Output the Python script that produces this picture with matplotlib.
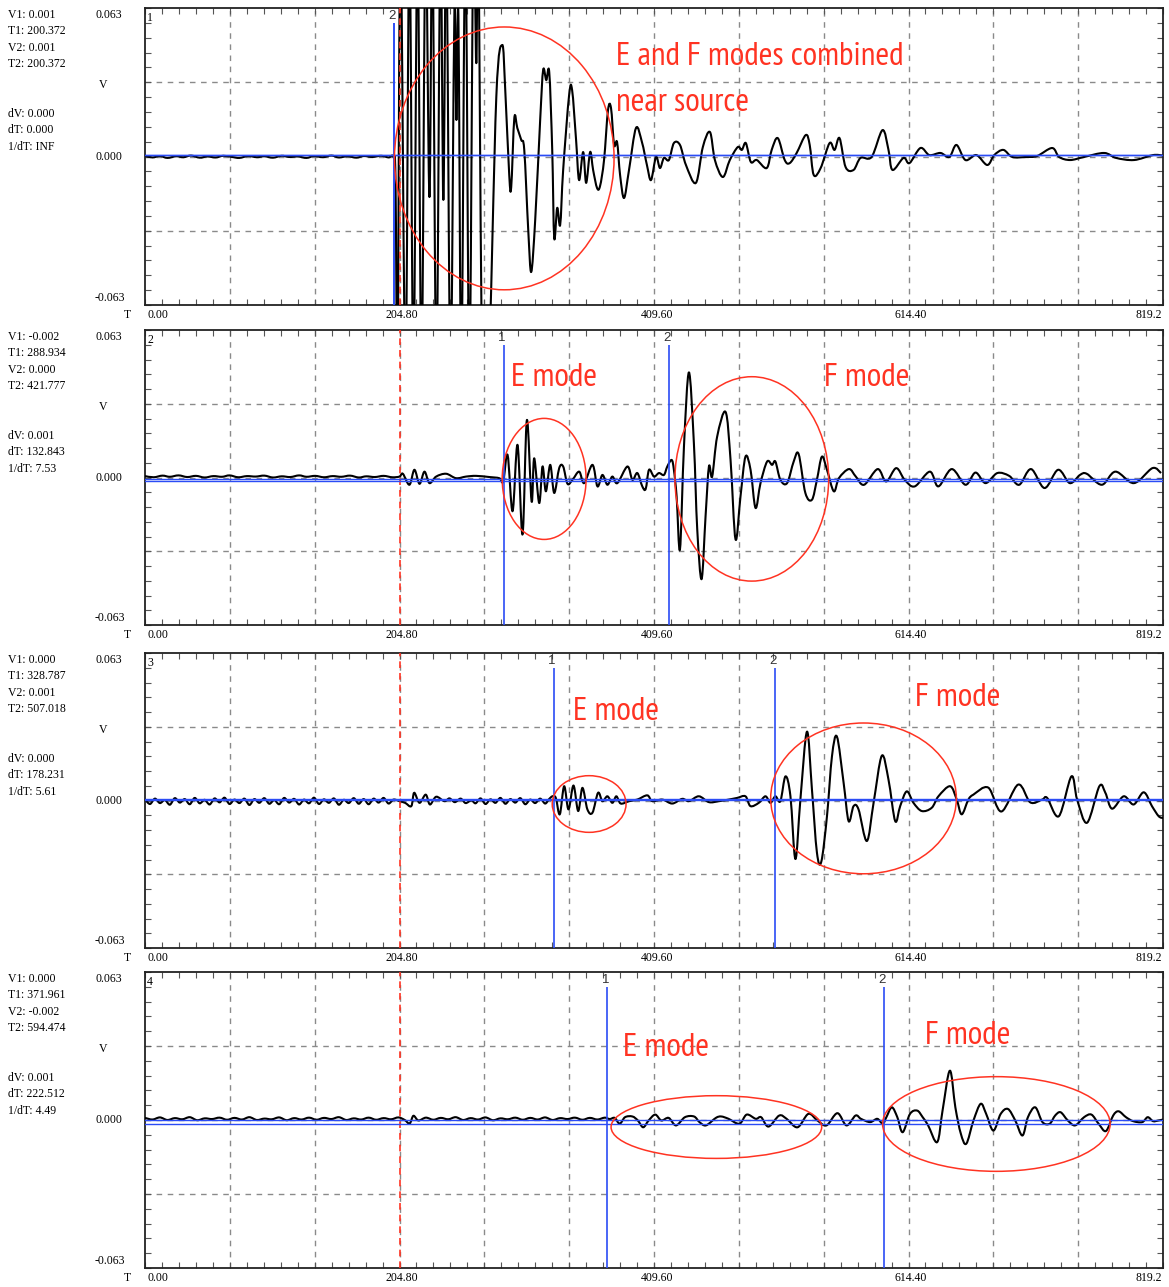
import os
import numpy as np
import matplotlib
matplotlib.use("Agg")
import matplotlib.pyplot as plt
from matplotlib import font_manager
from matplotlib.font_manager import FontProperties
from matplotlib.patches import Ellipse, PathPatch
from matplotlib.path import Path

T_MAX = 819.2
V_MAX = 0.063

# traces: (time, millivolts)
ch1 = [
    (0, 0.3), (6, -0.4), (12, 0.2), (18, -0.6), (25, 0.1), (31, -0.3), (37, 0.4), (44, -0.5), (50, 0.0), (57, -0.4),
    (63, 0.3), (70, -0.2), (76, -0.6), (83, 0.2), (90, -0.3), (96, 0.1), (103, -0.5), (110, 0.3), (116, -0.2), (123, 0.0),
    (130, -0.6), (136, 0.2), (143, -0.3), (150, 0.4), (156, -0.4), (163, 0.1), (170, -0.5), (176, 0.2), (183, -0.2), (190, 0.3),
    (196, -0.4), (200.0, -0.2), (201.6, -10.0), (203.2, -95), (205.6, 95), (209.6, -95), (212.8, 95), (216.0, -95), (219.3, 95), (222.5, -95),
    (225.7, 95), (228.9, -17.2), (231.3, 95), (234.5, -95), (237.7, 95), (240.1, -18.4), (242.5, 95), (245.8, -95), (249.0, 62.1), (250.6, 15.5),
    (252.2, 60.0), (254.6, -95), (257.8, 95), (261.0, -95), (264.2, 95), (266.6, 39.6), (268.2, 95), (271.5, -95), (276.3, -95), (282.7, 25.2),
    (287.5, 47.3), (289.9, 28.2), (293.1, -7.8), (294.7, -13.0), (297.2, 16.3), (299.6, 12.1), (302.8, 7.0), (305.2, 2.8), (308.4, -31.2), (310.8, -49.0),
    (314.0, -26.9), (318.0, 15.5), (320.4, 36.7), (322.9, 32.4), (325.3, 35.8), (327.7, 2.8), (329.3, -34.6), (331.7, -21.8), (334.1, -29.0), (336.5, -5.7),
    (341.3, 26.1), (343.7, 28.2), (346.9, 7.0), (349.3, -10.0), (352.6, 1.9), (355.0, -11.2), (358.2, 1.9), (360.6, -5.7), (363.8, -13.4), (366.2, -12.5),
    (369.4, -1.5), (372.6, 19.7), (375.0, 20.6), (377.5, 4.9), (379.9, 6.1), (382.3, -7.8), (385.5, -17.6), (389.5, -5.7), (395.1, 12.1), (399.9, 6.1),
    (403.9, -3.6), (407.2, -10.0), (411.2, -0.2), (414.4, -4.9), (417.6, -0.6), (421.6, -1.5), (425.6, 5.7), (430.5, 4.9), (435.3, -3.6), (443.3, -11.2),
    (448.9, 4.0), (454.6, 10.4), (458.6, -1.5), (465.0, -8.7), (470.6, -1.5), (477.0, 4.0), (480.3, 2.8), (483.5, 5.7), (487.5, -2.3), (492.3, -1.5),
    (500.3, -4.9), (504.3, 2.8), (509.2, 7.8), (514.8, -1.5), (518.8, -2.8), (524.4, 1.5), (531.7, 9.1), (534.9, 4.9), (538.1, -7.8), (543.7, -4.9),
    (550.9, 5.7), (554.9, 2.8), (558.9, 7.8), (563.8, -4.5), (570.2, -5.7), (575.8, -0.6), (584.7, -0.2), (593.5, 11.2), (598.3, 2.8), (601.5, -5.7),
    (610.4, -0.6), (615.2, -2.8), (624.0, 3.6), (631.2, 0.6), (640.1, 1.5), (647.3, -0.2), (653.0, 4.9), (660.2, -1.5), (669.0, 0.6), (677.8, -3.6),
    (683.4, 0.6), (690.7, 2.8), (697.9, -0.2), (709.1, -0.2), (717.9, 0.2), (730.0, 3.6), (735.6, -0.2), (744.5, -1.5), (755.7, -0.2), (771.8, 1.5),
    (781.4, -0.6), (795.9, -1.5), (811.1, 0.6), (819.2, 0.4),
]

ch2 = [
    (0, 0.6), (7, 0.1), (14, 0.8), (20, 0.3), (27, 0.9), (34, 0.2), (41, 0.7), (48, 0.0), (55, 0.6), (62, 0.3),
    (68, 0.9), (75, 0.1), (82, 0.6), (89, 0.4), (96, 0.8), (103, 0.0), (110, 0.5), (117, 0.2), (124, 0.9), (130, 0.3),
    (137, 0.7), (144, 0.1), (151, 0.6), (158, 0.3), (165, 0.8), (172, 0.0), (178, 0.5), (185, 0.2), (192, 0.7), (199, 0.1),
    (204.8, 0.4), (207.5, 1.6), (212.8, -3.1), (216.8, 3.3), (220.9, -2.7), (224.9, 2.5), (228.9, -2.4), (234.3, 0.4), (242.3, 1.6), (250.3, -0.3),
    (258.4, 0.4), (266.4, 0.7), (277.1, 0.2), (285.1, -0.3), (288.3, -1.7), (291.8, 9.6), (295.8, -14.4), (299.8, 13.9), (303.8, -24.3), (307.3, 24.5),
    (311.1, -10.2), (313.2, 8.2), (317.2, -10.9), (319.9, 4.7), (322.6, -5.9), (326.1, 5.4), (329.3, -6.6), (333.3, 4.0), (336.5, 4.7), (340.0, -2.7),
    (344.0, -1.0), (349.4, 2.5), (353.4, -2.4), (360.1, 5.4), (364.1, -3.8), (368.1, 1.1), (372.1, -3.1), (376.1, 0.4), (380.1, -2.4), (388.2, 4.7),
    (392.2, -1.0), (396.2, 1.9), (400.2, -3.8), (402.9, -4.9), (405.6, 3.3), (409.6, 0.4), (413.6, 1.9), (417.6, 1.1), (420.3, 4.7), (423.8, 7.5),
    (425.6, 3.3), (427.8, -8.1), (430.5, -30.7), (433.7, 13.1), (437.7, 44.9), (441.7, 14.6), (444.4, -22.2), (447.9, -43.4), (451.1, -16.5), (453.8, 4.7),
    (456.4, 0.4), (460.4, 17.4), (467.2, 28.0), (471.2, 7.5), (475.2, -26.4), (479.2, -8.1), (483.2, 8.9), (487.3, 3.3), (491.3, -13.0), (495.3, -2.4),
    (500.6, 6.8), (504.6, 5.4), (507.3, 6.8), (511.3, -1.0), (516.7, -2.4), (522.0, 6.8), (526.0, 10.0), (531.4, -6.6), (536.7, -9.5), (540.7, -1.0),
    (544.7, 8.9), (548.8, 3.3), (554.3, -5.9), (558.4, -0.3), (566.5, 3.6), (572.0, 0.4), (578.7, -3.1), (589.6, 3.6), (596.4, -1.7), (604.5, 4.0),
    (611.3, -1.0), (619.4, -3.8), (631.6, 2.5), (638.4, -3.8), (649.2, 3.6), (660.2, -3.1), (668.3, 2.1), (676.4, -2.4), (685.9, 1.9), (695.4, 0.7),
    (703.5, -3.1), (713.0, 3.6), (723.9, -4.5), (734.8, 3.3), (744.2, -2.4), (752.4, 1.1), (757.8, 1.6), (770.0, -3.1), (780.9, 2.5), (795.8, -2.4),
    (810.7, 4.0), (817.6, 1.9),
]

ch3 = [
    (0, 0.5), (4, -1.5), (8, 0.8), (12, -1.1), (16, 0.2), (20, -1.8), (24, 1.0), (28, -0.9), (32, 0.6), (36, -1.6),
    (40, 1.1), (44, -1.2), (48, 0.3), (52, -1.7), (56, 0.9), (60, -0.8), (64, 1.2), (68, -1.5), (72, 0.4), (76, -1.1),
    (80, 0.8), (84, -1.9), (88, 0.6), (92, -1.0), (96, 1.0), (100, -1.4), (104, 0.2), (108, -1.6), (112, 1.1), (116, -0.9),
    (120, 0.7), (124, -1.7), (128, 0.4), (132, -1.2), (136, 1.2), (140, -1.5), (144, 0.5), (148, -1.0), (152, 0.9), (156, -1.8),
    (160, 0.3), (164, -1.1), (168, 1.0), (172, -1.4), (176, 0.6), (180, -1.6), (184, 0.8), (188, -0.9), (192, 1.1), (196, -1.3),
    (200, 0.4), (204.8, -0.3), (209.3, -1.0), (214.3, -2.4), (216.6, 3.3), (220.9, -1.0), (225.9, 2.5), (229.3, -1.7), (234.3, 1.6), (240.9, -0.3),
    (245, 0.9), (249.3, -0.7), (254, 0.8), (258, -1.1), (262.6, 0.1), (266, -1.2), (270, 0.9), (274, -1.5), (278, 0.5), (282, -1.0),
    (286, 1.1), (290, -1.4), (294, 0.6), (298, -0.9), (302, 1.0), (306, -1.6), (310, 0.4), (314, -1.1), (318, 0.8), (322, -1.3),
    (325, 0.5), (327.9, 1.8), (330.6, 1.1), (333.8, -5.9), (337.3, 6.1), (340.8, -3.8), (344.8, 6.4), (348.6, -4.5), (352.0, 5.4), (356.0, -3.8),
    (360.1, -5.2), (364.6, 3.3), (368.1, -0.3), (372.1, 1.8), (376.1, -1.0), (379.3, 1.8), (382.8, -1.3), (389.5, -0.3), (396.2, 0.4), (404.2, 2.2),
    (408.2, -0.3), (416.3, 0.4), (424.3, -1.3), (432.3, 0.7), (437.7, -0.3), (445.7, 1.8), (453.8, -0.7), (461.8, -0.3), (469.8, 0.4), (476.5, 1.1),
    (483.2, 1.8), (487.2, -2.4), (493.9, -1.0), (499.3, 1.8), (503.3, -1.0), (507.3, 1.8), (511.3, -0.3), (515.4, 10.3), (519.4, 1.8), (523.4, -25.0),
    (527.4, 0.4), (532.7, 29.4), (536.7, 4.7), (540.7, -22.2), (544.2, -26.2), (548.8, -6.7), (552.8, 18.8), (556.8, 27.3), (562.2, 7.5), (566.2, -8.8),
    (570.2, -2.4), (574.2, -3.8), (580.9, -17.3), (586.3, -1.0), (592.9, 19.1), (598.3, 8.9), (603.7, -8.8), (607.7, -2.4), (613.0, 3.9), (618.4, -1.0),
    (625.1, -4.5), (633.1, -3.1), (638.5, 1.8), (647.9, 6.1), (653.2, 0.4), (657.2, -5.9), (662.6, 0.4), (666.6, 2.5), (678.6, 5.5), (689.1, -4.7),
    (702.7, 6.8), (712.4, -0.8), (722.0, 0.4), (726.0, 1.1), (735.4, -6.7), (745.5, 10.3), (750.1, 0.4), (758.1, -9.5), (768.0, 6.1), (772.8, 3.3),
    (778.2, -3.5), (787.6, 1.8), (795.6, -1.7), (803.7, 3.5), (810.3, -2.4), (815.7, -6.7), (819.2, -7.5),
]

ch4 = [
    (0, 0.9), (6, 0.2), (12, 1.1), (18, 0.0), (24, 0.8), (30, 0.3), (36, 1.2), (42, -0.1), (48, 0.7), (54, 0.4),
    (60, 1.0), (66, 0.1), (72, 0.9), (78, 0.2), (84, 1.2), (90, 0.0), (96, 0.6), (102, 0.3), (108, 1.1), (114, -0.1),
    (120, 0.8), (126, 0.2), (132, 1.0), (138, 0.1), (144, 0.9), (150, 0.4), (156, 1.2), (162, 0.0), (168, 0.7), (174, 0.2),
    (180, 1.0), (186, 0.1), (192, 0.8), (198, 0.3), (204, 1.1), (209, 0.0), (213, -1.5), (216, 1.8), (220, -0.2), (226, 1.0),
    (232, 0.1), (238, 0.9), (244, 0.3), (250, 1.2), (256, 0.0), (262, 0.8), (268, 0.2), (274, 1.1), (280, -0.1), (286, 0.7),
    (292, 0.3), (298, 1.0), (304, 0.1), (310, 0.9), (316, 0.2), (322, 1.1), (328, 0.0), (334, 0.8), (340, 0.4), (346, 1.0),
    (352, 0.1), (358, 0.9), (364, 0.2), (370, 1.0), (374, 0.4), (378, 0.9), (382.0, -1.6), (386.3, 1.2), (392.2, 1.5), (396.6, -0.2),
    (400.9, -3.1), (405.3, -0.2), (410.6, 2.3), (415.5, -0.2), (421.4, 0.9), (427.3, -2.3), (434.5, 1.2), (441.8, 1.5), (446.2, -0.9), (451.4, -2.3),
    (459.4, 0.9), (463.7, 1.5), (469.6, 0.5), (478.3, -1.6), (484.2, 2.3), (491.5, 0.5), (495.8, 1.2), (501.7, -2.8), (510.4, 1.9), (516.3, 0.5),
    (525.1, -3.1), (533.8, 2.6), (541.1, -0.2), (548.4, -2.3), (557.2, 2.9), (564.5, -2.3), (571.8, 1.9), (576.1, 0.5), (583.5, -0.9), (589.3, 0.5),
    (593.7, -1.6), (596.6, 1.2), (601.0, 5.4), (605.4, 1.2), (609.7, -5.2), (615.6, 2.6), (621.4, 4.0), (625.8, 1.2), (630.2, -2.3), (637.5, -9.4),
    (641.8, 4.0), (647.7, 21.0), (652.1, 5.4), (656.5, -5.8), (660.9, -10.1), (666.7, -0.2), (672.5, 6.9), (676.9, 2.6), (682.7, -4.5), (688.6, 2.6),
    (694.4, 4.7), (700.3, -0.2), (706.1, -6.6), (710.5, 1.2), (716.4, 5.4), (722.2, -0.9), (728.0, -1.6), (732.4, 1.9), (736.8, 3.3), (742.6, -0.2),
    (748.5, -2.3), (755.7, 1.2), (761.6, 2.3), (767.4, -1.6), (773.3, -4.7), (779.1, 1.9), (783.5, 3.7), (789.4, 1.2), (795.2, -0.5), (802.5, -0.9),
    (806.9, 1.2), (811.2, -0.5), (815.6, -0.2), (819.2, 0.2),
]

traces = [ch1, ch2, ch3, ch4]

# cursor readouts
cursor_t = [(200.372, 200.372), (288.934, 421.777), (328.787, 507.018), (371.961, 594.474)]
cursor_v = [(0.0007, 0.0007), (-0.0017, -0.0005), (0.0003, 0.0008), (0.0001, -0.0016)]
readouts = [
    ["V1: 0.001", "T1: 200.372", "V2: 0.001", "T2: 200.372", "dV: 0.000", "dT: 0.000", "1/dT: INF"],
    ["V1: -0.002", "T1: 288.934", "V2: 0.000", "T2: 421.777", "dV: 0.001", "dT: 132.843", "1/dT: 7.53"],
    ["V1: 0.000", "T1: 328.787", "V2: 0.001", "T2: 507.018", "dV: 0.000", "dT: 178.231", "1/dT: 5.61"],
    ["V1: 0.000", "T1: 371.961", "V2: -0.002", "T2: 594.474", "dV: 0.001", "dT: 222.512", "1/dT: 4.49"],
]
x_labels = ["0.00", "204.80", "409.60", "614.40", "819.2"]
y_labels = ["0.063", "V", "0.000", "-0.063"]

# annotations: (text, t, mV) and ellipses: (t centre, mV centre, t width, mV height)
notes = [
    [("E and F modes combined", 379, 42.2), ("near source", 379, 22.7)],
    [("E mode", 294.7, 42.3), ("F mode", 546.2, 42.3)],
    [("E mode", 344.5, 37.7), ("F mode", 620.0, 43.7)],
    [("E mode", 384.7, 30.7), ("F mode", 628.0, 35.8)],
]
rings = [
    [(289.1, -0.8, 176.7, 111.5)],
    [(321.2, -0.6, 67.5, 51.7), (488.3, -0.6, 123.7, 87.3)],
    [(357.4, -1.5, 59.4, 24.2), (578.2, 0.9, 149.4, 64.4)],
    [(459.8, -3.0, 169.5, 26.7), (685.1, -1.7, 183.1, 40.3)],
]

W, H = 1169, 1287
RED = "#ff3322"
BLUE = "#2b4cf5"
SERIF = "Liberation Serif"
panel_top = [8, 330, 653, 972]
panel_bot = [305, 625, 948, 1268]
X0, X1 = 145, 1163


def note_font():
    # a narrow sans for the red hand-written notes, if one is installed
    narrow, cond = None, None
    for f in font_manager.fontManager.ttflist:
        fn = os.path.basename(f.fname).lower()
        if any(b in fn for b in ("bold", "italic", "oblique", "mono", "light", "thin", "black", "semi", "medium")):
            continue
        if "sans" not in fn and "roboto" not in fn:
            continue
        if "narrow" in fn and narrow is None:
            narrow = f.fname
        elif "condensed" in fn and cond is None:
            cond = f.fname
    if narrow:
        return FontProperties(fname=narrow, size=24)
    if cond:
        return FontProperties(fname=cond, size=23.5)
    return FontProperties(family="Liberation Sans", size=19)


def smooth(x, y):
    # Catmull-Rom curve through the read points, drawn as Bezier segments
    n = len(x)
    verts = [(x[0], y[0])]
    codes = [Path.MOVETO]
    for k in range(n - 1):
        xa, ya = (x[k - 1], y[k - 1]) if k > 0 else (x[k], y[k])
        xb, yb = (x[k + 2], y[k + 2]) if k + 2 < n else (x[k + 1], y[k + 1])
        verts.append((x[k] + (x[k + 1] - xa) / 6, y[k] + (y[k + 1] - ya) / 6))
        verts.append((x[k + 1] - (xb - x[k]) / 6, y[k + 1] - (yb - y[k]) / 6))
        verts.append((x[k + 1], y[k + 1]))
        codes += [Path.CURVE4] * 3
    return Path(verts, codes)


fig = plt.figure(figsize=(W / 100, H / 100), dpi=100)
nfont = note_font()


def ptext(px, py, s, **kw):
    kw.setdefault("va", "center")
    kw.setdefault("family", SERIF)
    kw.setdefault("fontsize", 8.5)
    fig.text(px / W, 1 - py / H, s, **kw)


for i in range(4):
    top, bot = panel_top[i], panel_bot[i]
    ax = fig.add_axes([X0 / W, 1 - bot / H, (X1 - X0) / W, (bot - top) / H])
    ax.set_xlim(0, T_MAX)
    ax.set_ylim(-V_MAX, V_MAX)
    ax.set_xticks(np.linspace(0, T_MAX, 61))
    ax.set_yticks(np.linspace(-V_MAX, V_MAX, 21))
    ax.tick_params(direction="in", length=4, width=0.8, color="#555555",
                   top=True, right=True, labelleft=False, labelbottom=False)
    for s in ax.spines.values():
        s.set_linewidth(1.3)
        s.set_color("#222222")

    # dashed grid
    for g in np.arange(1, 12) * T_MAX / 12:
        ax.axvline(g, color="#8a8a8a", lw=1, ls=(0, (4, 4)), zorder=1)
    for g in (-V_MAX / 2, 0, V_MAX / 2):
        ax.axhline(g, color="#8a8a8a", lw=1, ls=(0, (4, 4)), zorder=1)

    t, mv = np.array(traces[i]).T
    ax.add_patch(PathPatch(smooth(t, mv / 1000), fill=False, ec="black",
                           lw=1.5, zorder=4, joinstyle="round"))

    ax.axvline(204.8, color=RED, lw=1.2, ls=(0, (4, 3)), zorder=4.5)

    # cursors
    for v in cursor_v[i]:
        ax.axhline(v, color=BLUE, lw=1, zorder=5)
    t1, t2 = cursor_t[i]
    ax.vlines([t1, t2], -V_MAX, 0.0566, color=BLUE, lw=1.2, zorder=5)
    labels = [("2", t2)] if t1 == t2 else [("1", t1), ("2", t2)]
    for name, tc in labels:
        ax.text(tc - 1.5, 0.0597, name, ha="center", va="center", fontsize=9.5,
                family="Liberation Sans", color="#333333", zorder=6)

    for (tc, vc, wd, ht) in rings[i]:
        ax.add_patch(Ellipse((tc, vc / 1000), wd, ht / 1000, fill=False,
                             ec=RED, lw=1.1, zorder=6, clip_on=False))
    for (s, tx, vy) in notes[i]:
        ax.text(tx, vy / 1000, s, color=RED, fontproperties=nfont,
                ha="left", va="center", zorder=7)

    ax.text(0.002, 0.965, str(i + 1), transform=ax.transAxes, fontsize=8.5,
            family=SERIF, ha="left", va="center")

    # y labels
    zero = (top + bot) / 2
    ptext(95, top + 7, y_labels[0])
    ptext(99, top + 77, y_labels[1])
    ptext(95, zero, y_labels[2])
    ptext(95, bot - 7, y_labels[3])

    # x labels
    ptext(124, bot + 10, "T")
    ptext(147, bot + 10, x_labels[0])
    for lab, px in zip(x_labels[1:4], [402, 657, 911]):
        ptext(px, bot + 10, lab, ha="center")
    ptext(1135, bot + 10, x_labels[4])

    # readouts
    for s, off in zip(readouts[i], [7, 23, 40, 56, 106, 122, 139]):
        ptext(8, top + off, s)

fig.savefig("out.png", dpi=100, facecolor="white")
